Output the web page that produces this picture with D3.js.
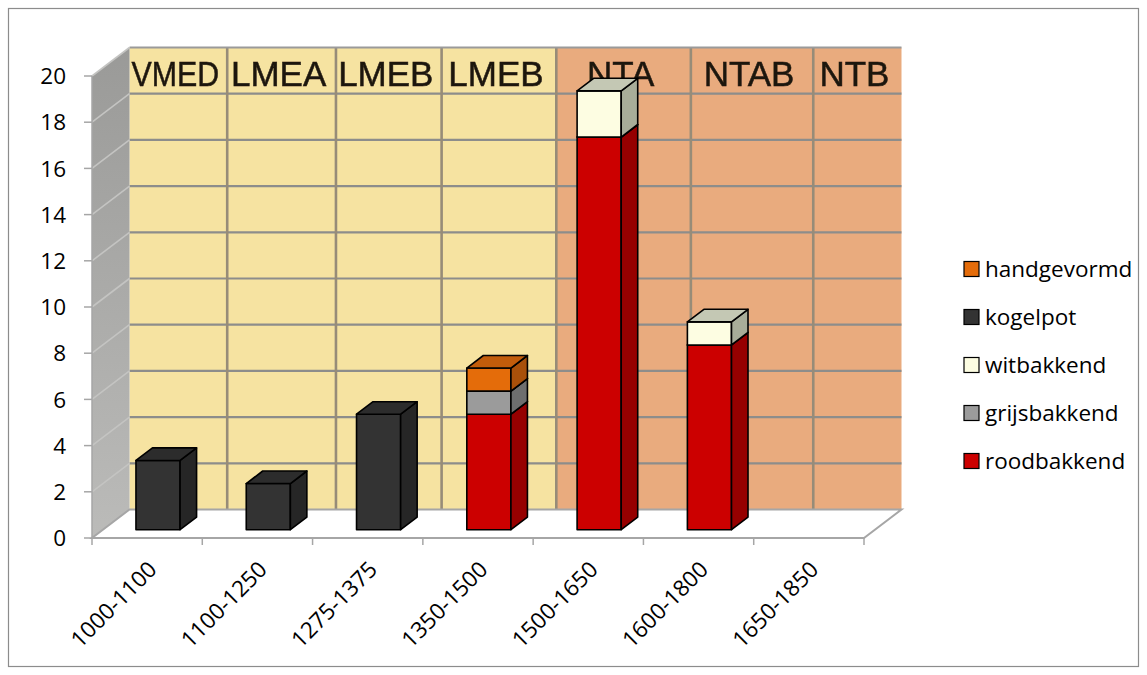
<!DOCTYPE html>
<html>
<head>
<meta charset="utf-8">
<script src="https://cdn.jsdelivr.net/npm/d3@7/dist/d3.min.js"></script>
<style>
  html, body { margin: 0; padding: 0; background: #ffffff; }
  svg { display: block; }
  .axis-label { font-family: "Open Sans", "Noto Sans", sans-serif; font-size: 22.5px; fill: #000; }
  .band-label { font-family: "Liberation Sans", Arial, sans-serif; font-size: 35px; fill: #1f170f; stroke: #1f170f; stroke-width: 0.5px; }
</style>
</head>
<body>
<svg id="chart" width="1147" height="675"></svg>
<script>
// Periods on the category axis
const categories = ["1000-1100", "1100-1250", "1275-1375", "1350-1500", "1500-1650", "1600-1800", "1650-1850"];

// Counts per ware type, one value per period (stacked bottom to top in this order)
const roodbakkend  = [0, 0, 0, 5, 17, 8, 0];
const grijsbakkend = [0, 0, 0, 1, 0, 0, 0];
const witbakkend   = [0, 0, 0, 0, 2, 1, 0];
const kogelpot     = [3, 2, 5, 0, 0, 0, 0];
const handgevormd  = [0, 0, 0, 1, 0, 0, 0];

const seriesNames = ["roodbakkend", "grijsbakkend", "witbakkend", "kogelpot", "handgevormd"];
const seriesValues = [roodbakkend, grijsbakkend, witbakkend, kogelpot, handgevormd];

// Value axis ticks
const yTicks = [0, 2, 4, 6, 8, 10, 12, 14, 16, 18, 20];

// Archaeological periods painted on the back wall (edges in category units)
const periodLabels = ["VMED", "LMEA", "LMEB", "LMEB", "NTA", "NTAB", "NTB"];
const periodEdges  = [0, 0.886, 1.872, 2.83, 3.87, 5.09, 6.2, 7];
const periodEra    = ["me", "me", "me", "me", "nt", "nt", "nt"];

// ---- styling ----
const faceColors = {
  roodbakkend:  { front: "#cc0000", side: "#960000", top: "#a80000" },
  grijsbakkend: { front: "#9b9b9b", side: "#6e6e6e", top: "#858585" },
  witbakkend:   { front: "#fdfde2", side: "#a8ad99", top: "#c4c8b4" },
  kogelpot:     { front: "#333333", side: "#262626", top: "#2c2c2c" },
  handgevormd:  { front: "#e46c0a", side: "#a9500a", top: "#c25c0b" }
};
const eraColors = { me: "#f6e3a1", nt: "#e9ab7e" };

const svg = d3.select("#chart");

// Front plane scales
const x = d3.scaleBand().domain(categories).range([92, 864]).paddingInner(0).paddingOuter(0);
const y = d3.scaleLinear().domain([0, 20]).range([538, 76]);

// Oblique depth offset of the full floor depth
const DX = 37.5, DY = -28.5;
const proj = (px, py, f) => [px + DX * f, py + DY * f];

// Back wall scale in category units
const xWall = d3.scaleLinear().domain([0, categories.length]).range([x.range()[0] + DX, x.range()[1] + DX]);

// Outer frame
svg.append("rect")
  .attr("x", 8.5).attr("y", 8.5).attr("width", 1130).attr("height", 658)
  .attr("fill", "#ffffff").attr("stroke", "#8c8c8c").attr("stroke-width", 1.2);

const defs = svg.append("defs");
const sideGrad = defs.append("linearGradient").attr("id", "sideWall")
  .attr("x1", 0).attr("y1", 0).attr("x2", 0).attr("y2", 1);
sideGrad.append("stop").attr("offset", "0%").attr("stop-color", "#9a9a98");
sideGrad.append("stop").attr("offset", "100%").attr("stop-color", "#bbbbb9");
defs.append("filter").attr("id", "soft").append("feGaussianBlur").attr("stdDeviation", 0.4);

const wallTop = y(20) + DY, wallBottom = y(0) + DY;

// Back wall, coloured by period
const wall = svg.append("g");
wall.selectAll("rect.period")
  .data(periodLabels)
  .join("rect")
  .attr("class", "period")
  .attr("x", (d, i) => xWall(periodEdges[i]))
  .attr("y", wallTop)
  .attr("width", (d, i) => xWall(periodEdges[i + 1]) - xWall(periodEdges[i]))
  .attr("height", wallBottom - wallTop)
  .attr("fill", (d, i) => eraColors[periodEra[i]]);

// Horizontal grid on the back wall
wall.selectAll("line.hgrid")
  .data(yTicks.filter(t => t > 0 && t < 20))
  .join("line")
  .attr("class", "hgrid")
  .attr("x1", xWall(0)).attr("x2", xWall(categories.length))
  .attr("y1", d => y(d) + DY).attr("y2", d => y(d) + DY)
  .attr("stroke", "#8d8d8b").attr("stroke-width", 2.2);

// Period dividers
wall.selectAll("line.vgrid")
  .data(periodEdges.slice(1, -1))
  .join("line")
  .attr("class", "vgrid")
  .attr("x1", d => xWall(d)).attr("x2", d => xWall(d))
  .attr("y1", wallTop).attr("y2", wallBottom)
  .attr("stroke", "#978c78").attr("stroke-width", 2.6);

// Top edge of the wall
wall.append("line")
  .attr("x1", xWall(0)).attr("x2", xWall(categories.length))
  .attr("y1", wallTop).attr("y2", wallTop)
  .attr("stroke", "#9a9a9a").attr("stroke-width", 2);

// Period labels in the top band of the wall
wall.selectAll("text.band-label")
  .data(periodLabels)
  .join("text")
  .attr("class", "band-label")
  .attr("filter", "url(#soft)")
  .attr("x", (d, i) => (xWall(periodEdges[i]) + xWall(periodEdges[i + 1])) / 2 - 3)
  .attr("y", y(18) + DY - 8)
  .attr("text-anchor", "middle")
  .text(d => d)
  .each(function (d, i) {
    const avail = xWall(periodEdges[i + 1]) - xWall(periodEdges[i]) - 10;
    const w = this.getComputedTextLength();
    if (w > avail) {
      d3.select(this).attr("textLength", avail).attr("lengthAdjust", "spacingAndGlyphs");
    }
  });

// Side wall
const [lx0, lx1] = [x.range()[0], x.range()[0] + DX];
svg.append("path")
  .attr("d", d3.line()([[lx0, y(0)], [lx0, y(20)], proj(lx0, y(20), 1), proj(lx0, y(0), 1)]) + "Z")
  .attr("fill", "url(#sideWall)");
svg.selectAll("line.sgrid")
  .data(yTicks.filter(t => t > 0))
  .join("line")
  .attr("class", "sgrid")
  .attr("x1", lx0).attr("y1", d => y(d))
  .attr("x2", lx1).attr("y2", d => y(d) + DY)
  .attr("stroke", "#c4c4c2").attr("stroke-width", 1.6);

// Floor
const [fx0, fx1] = x.range();
svg.append("path")
  .attr("d", d3.line()([[fx0, y(0)], [fx1, y(0)], proj(fx1, y(0), 1), proj(fx0, y(0), 1)]) + "Z")
  .attr("fill", "#ffffff").attr("stroke", "#a6a6a6").attr("stroke-width", 2);

// Value axis
const yAxis = svg.append("g");
yAxis.append("line")
  .attr("x1", fx0).attr("x2", fx0).attr("y1", y(0)).attr("y2", y(20))
  .attr("stroke", "#a6a6a6").attr("stroke-width", 1.5);
yAxis.selectAll("line.tick")
  .data(yTicks).join("line").attr("class", "tick")
  .attr("x1", fx0 - 8).attr("x2", fx0).attr("y1", d => y(d)).attr("y2", d => y(d))
  .attr("stroke", "#a6a6a6").attr("stroke-width", 1.5);
yAxis.selectAll("text")
  .data(yTicks).join("text")
  .attr("class", "axis-label")
  .attr("x", 66).attr("y", d => y(d)).attr("dy", "0.36em")
  .attr("text-anchor", "end")
  .text(d => d);

// Category axis
const xAxis = svg.append("g");
xAxis.selectAll("line.tick")
  .data(d3.range(categories.length + 1)).join("line").attr("class", "tick")
  .attr("x1", i => fx0 + i * x.step()).attr("x2", i => fx0 + i * x.step())
  .attr("y1", y(0)).attr("y2", y(0) + 7)
  .attr("stroke", "#a6a6a6").attr("stroke-width", 1.5);
xAxis.selectAll("text")
  .data(categories).join("text")
  .attr("class", "axis-label")
  .attr("text-anchor", "end")
  .attr("transform", d => {
    const cx = x(d) + x.bandwidth() / 2 + 11;
    return `translate(${cx},${y(0) + 33}) rotate(-45)`;
  })
  .text(d => d);

// Stacked 3D columns
const stackData = categories.map((c, i) => {
  const row = { category: c };
  seriesNames.forEach((s, k) => { row[s] = seriesValues[k][i]; });
  return row;
});
const stacked = d3.stack().keys(seriesNames)(stackData);

const barW = x.bandwidth() * 0.4;
const f0 = 0.29, f1 = 0.73;

const bars = svg.append("g");
categories.forEach((c, i) => {
  stacked.forEach(layer => {
    const seg = layer[i];
    if (seg[1] - seg[0] <= 0) return;
    const col = faceColors[layer.key];
    const cx = x(c) + x.bandwidth() / 2;
    const [ax, ay] = proj(cx - barW / 2, y(seg[0]), f0);
    const [bx, by] = proj(cx + barW / 2, y(seg[1]), f0);
    const ox = DX * (f1 - f0), oy = DY * (f1 - f0);
    const g = bars.append("g")
      .attr("stroke", "#000").attr("stroke-width", 1.6).attr("stroke-linejoin", "round");
    // front
    g.append("path")
      .attr("d", d3.line()([[ax, ay], [bx, ay], [bx, by], [ax, by]]) + "Z")
      .attr("fill", col.front);
    // side
    g.append("path")
      .attr("d", d3.line()([[bx, ay], [bx + ox, ay + oy], [bx + ox, by + oy], [bx, by]]) + "Z")
      .attr("fill", col.side);
    // top
    g.append("path")
      .attr("d", d3.line()([[ax, by], [bx, by], [bx + ox, by + oy], [ax + ox, by + oy]]) + "Z")
      .attr("fill", col.top);
  });
});

// Legend (reverse stacking order)
const legendItems = seriesNames.slice().reverse();
const legend = svg.append("g");
const leg = legend.selectAll("g")
  .data(legendItems).join("g")
  .attr("transform", (d, i) => `translate(964,${269 + i * 48})`);
leg.append("rect")
  .attr("x", 0).attr("y", -7.5).attr("width", 15).attr("height", 15)
  .attr("fill", d => faceColors[d].front)
  .attr("stroke", "#000").attr("stroke-width", 1.2);
leg.append("text")
  .attr("class", "axis-label")
  .attr("x", 21).attr("y", 0).attr("dy", "0.36em")
  .text(d => d);
</script>
</body>
</html>
